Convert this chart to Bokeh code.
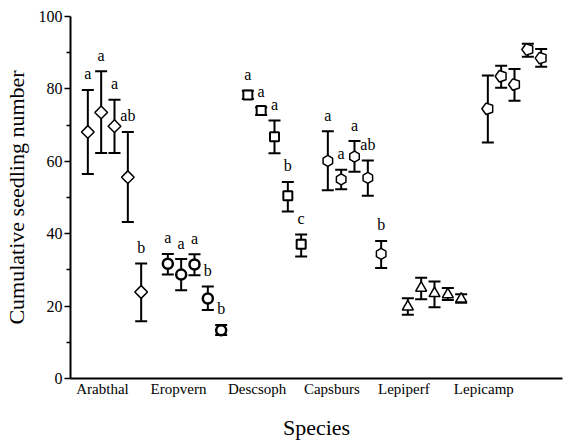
import math
from bokeh.plotting import figure
from bokeh.models import FixedTicker, Range1d, ColumnDataSource
from bokeh.embed import file_html
from bokeh.resources import INLINE

species = ["Arabthal", "Eropvern", "Descsoph", "Capsburs", "Lepiperf", "Lepicamp"]
label_pos = [1.1, 6.8, 12.7, 18.3, 23.7, 29.7]

means = [
    [68.1, 73.5, 69.7, 55.6, 23.9],
    [31.7, 28.7, 31.5, 22.1, 13.3],
    [78.3, 74.0, 66.8, 50.5, 37.1],
    [60.1, 55.0, 61.3, 55.4, 34.4],
    [19.8, 25.0, 23.5, 23.2, 22.0],
    [74.5, 83.5, 81.2, 90.9, 88.5],
]
upper = [
    [79.7, 84.9, 77.0, 68.1, 31.8],
    [34.4, 33.0, 34.3, 25.4, 14.8],
    [79.5, 74.9, 71.3, 54.3, 39.8],
    [68.3, 57.7, 65.6, 60.2, 38.0],
    [22.2, 27.8, 26.8, 25.0, 23.3],
    [83.7, 86.4, 85.5, 92.5, 91.0],
]
lower = [
    [56.5, 62.3, 62.3, 43.2, 15.8],
    [28.7, 24.4, 28.5, 18.9, 12.0],
    [77.2, 72.8, 62.2, 46.1, 33.7],
    [52.0, 52.3, 57.1, 50.5, 30.5],
    [17.6, 21.9, 19.7, 21.7, 20.9],
    [65.2, 80.3, 76.7, 88.9, 86.1],
]
letters = [
    ["a", "a", "a", "ab", "b"],
    ["a", "a", "a", "b", "b"],
    ["a", "a", "a", "b", "c"],
    ["a", "a", "a", "ab", "b"],
    ["", "", "", "", ""],
    ["", "", "", "", ""],
]
x_title = "Species"
y_title = "Cumulative seedling number"

SERIF = "Liberation Serif"

p = figure(width=564, height=442, output_backend="svg", toolbar_location=None,
           x_range=Range1d(-1.3, 35.6), y_range=Range1d(0, 100),
           min_border_left=70, min_border_top=16, min_border_right=2, min_border_bottom=58)
p.xgrid.visible = False
p.ygrid.visible = False
p.outline_line_color = None
p.background_fill_color = "white"
p.border_fill_color = "white"

markers = [
    dict(marker="square", size=9, angle=math.pi / 4, line_width=1.5),
    dict(marker="circle", size=10, angle=0, line_width=2.5),
    dict(marker="square", size=9, angle=0, line_width=2),
    dict(marker="hex", size=11, angle=math.pi / 2, line_width=1.5),
    dict(marker="triangle", size=11, angle=0, line_width=1.5),
    None,
]

for g in range(len(species)):
    xs = [6 * g + j for j in range(len(means[g]))]
    src = ColumnDataSource(dict(x=xs, m=means[g], hi=upper[g], lo=lower[g], t=letters[g]))
    p.segment(x0="x", y0="lo", x1="x", y1="hi", source=src, line_color="black", line_width=2)
    p.scatter(x="x", y="hi", source=src, marker="dash", size=12, line_color="black", line_width=2)
    p.scatter(x="x", y="lo", source=src, marker="dash", size=12, line_color="black", line_width=2)
    mk = markers[g]
    if mk is not None:
        p.scatter(x="x", y="m", source=src, marker=mk["marker"], size=mk["size"], angle=mk["angle"],
                  fill_color="white", line_color="black", line_width=mk["line_width"])
    else:
        p.ngon(x="x", y="m", source=src, radius=6, radius_units="screen", n=5, angle=math.pi / 2,
               fill_color="white", line_color="black", line_width=1.5)
    p.text(x="x", y="hi", text="t", source=src, text_align="center", text_baseline="middle",
           y_offset=-16, text_font=SERIF, text_font_size="16px", text_color="black")

for ax in (p.xaxis[0], p.yaxis[0]):
    ax.axis_line_color = "black"
    ax.major_tick_line_color = "black"
    ax.minor_tick_line_color = "black"
    ax.major_label_text_color = "black"
    ax.axis_label_text_color = "black"
    ax.axis_label_text_font = SERIF
    ax.axis_label_text_font_style = "normal"
    ax.axis_label_text_font_size = "22px"
    ax.major_label_text_font = SERIF
    ax.axis_line_width = 2

# y axis
yax = p.yaxis[0]
yax.ticker = FixedTicker(ticks=[0, 20, 40, 60, 80, 100], minor_ticks=[10, 30, 50, 70, 90])
yax.axis_label = y_title
yax.axis_label_standoff = 7
yax.major_label_standoff = 2
yax.major_label_text_font_size = "16px"
yax.major_tick_line_width = 1.5
yax.minor_tick_line_width = 1.5
yax.major_tick_out = 6
yax.major_tick_in = 0
yax.minor_tick_out = 4
yax.minor_tick_in = 0

# x axis
xax = p.xaxis[0]
xax.ticker = FixedTicker(ticks=label_pos, minor_ticks=[])
xax.major_label_overrides = {pos: name for pos, name in zip(label_pos, species)}
xax.axis_label = x_title
xax.axis_label_standoff = 15
xax.major_label_standoff = 2
xax.major_label_text_font_size = "15px"
xax.major_tick_out = 0
xax.major_tick_in = 0
xax.minor_tick_line_color = None
xax.major_tick_line_color = None

open("out.html", "w").write(file_html(p, INLINE))
